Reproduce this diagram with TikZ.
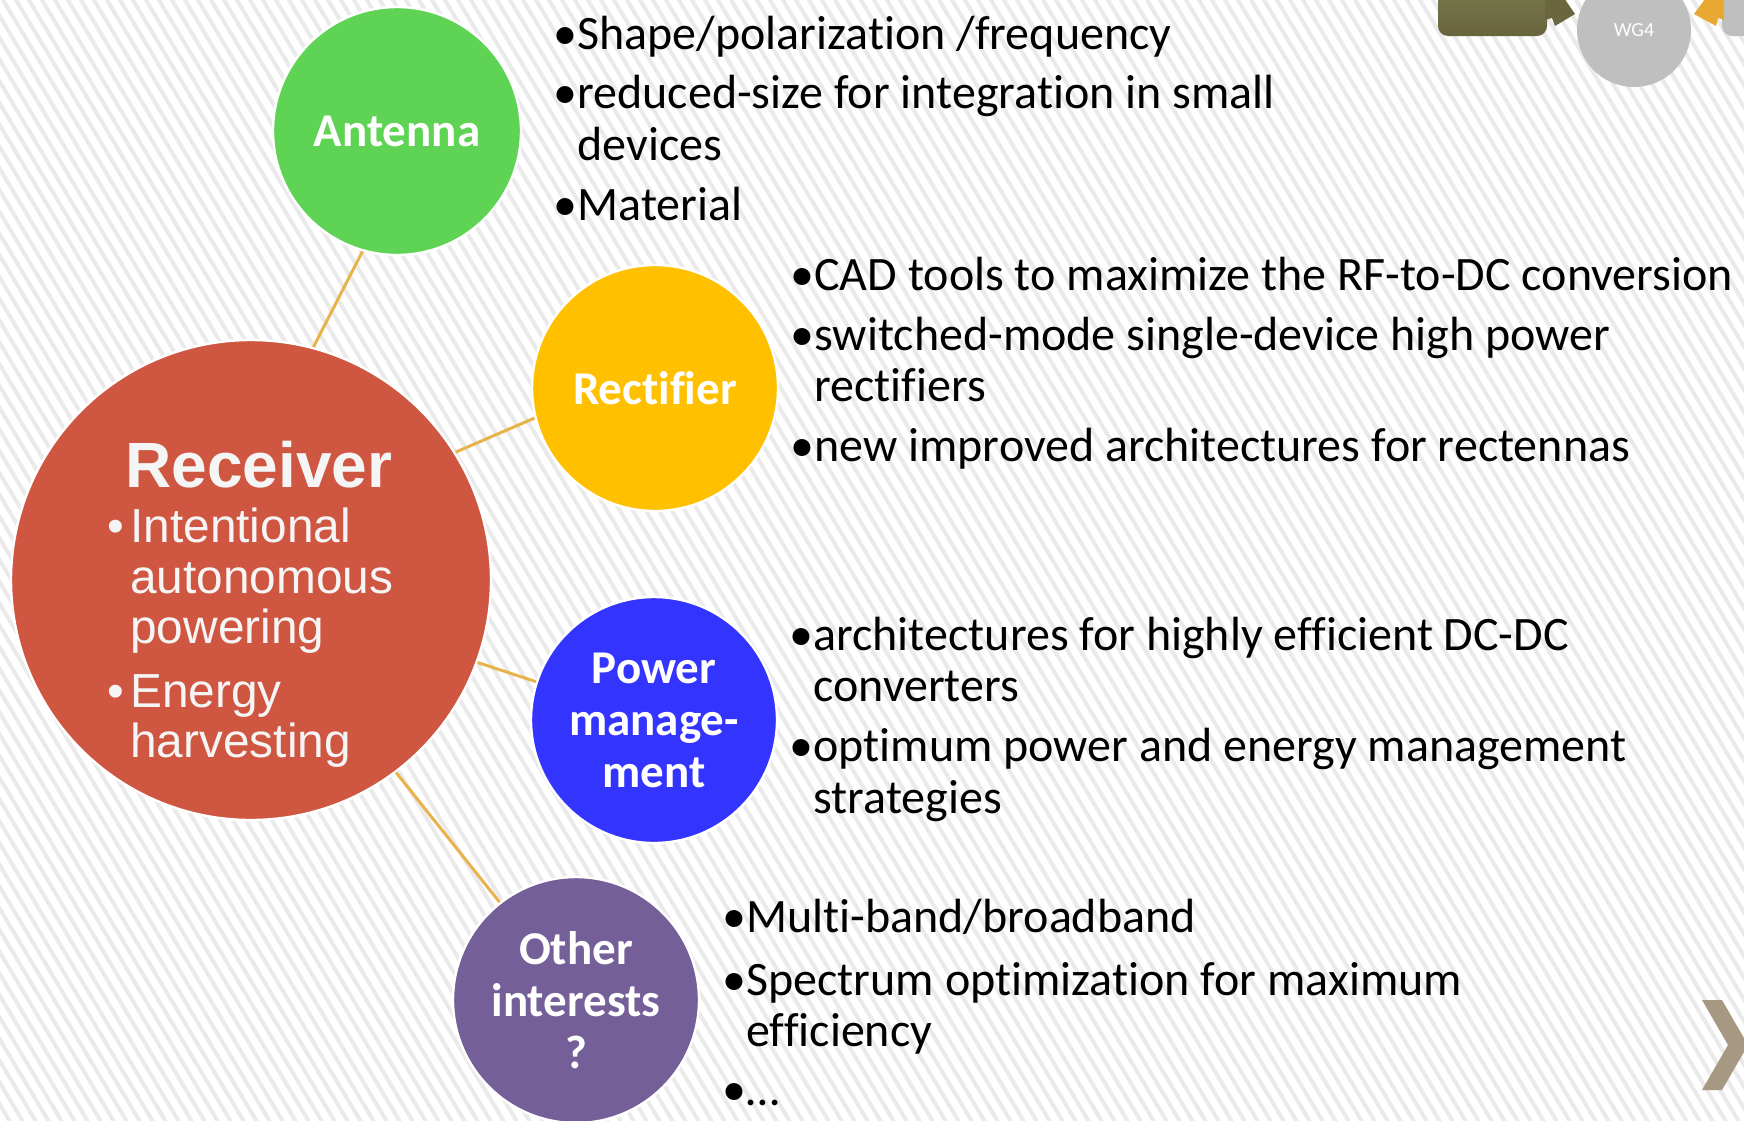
\documentclass[tikz,border=0pt]{standalone}
\usepackage{fontspec}
\setmainfont{Carlito}[RawFeature={-liga}]
\newfontfamily\arialf{Liberation Sans}
\usetikzlibrary{calc}

\definecolor{antgreen}{HTML}{5ED354}
\definecolor{rectgold}{HTML}{FFC000}
\definecolor{powblue}{HTML}{3434FF}
\definecolor{othpurple}{HTML}{745F98}
\definecolor{recred}{HTML}{CF5641}
\definecolor{recwhite}{HTML}{F5F5F5}
\definecolor{linkgold}{HTML}{E8B44A}
\definecolor{stripe}{HTML}{EAEAEA}
\definecolor{olivetop}{HTML}{7C7A4C}
\definecolor{olivebot}{HTML}{68653E}
\definecolor{wggray}{HTML}{BFBFBF}
\definecolor{arrorange}{HTML}{E8A832}
\definecolor{chev}{HTML}{A69882}

\newcommand\bul{\llap{•}}
\newcommand\rbul{\llap{•\hspace{3pt}}}

\begin{document}
\begin{tikzpicture}[x=0.5pt,y=-0.5pt,
  hub/.style={circle, draw=white, line width=1.2pt, inner sep=0pt, align=center,
    text=white, font=\fontsize{23.5}{26}\selectfont\bfseries},
  link/.style={draw=linkgold, line width=1.5pt},
  txt/.style={anchor=base west, inner sep=0pt, font=\fontsize{24}{26}\selectfont},
  rtxt/.style={anchor=base west, inner sep=0pt, text=recwhite,
    font=\arialf\fontsize{23.9}{26}\selectfont},
  rtitle/.style={anchor=base west, inner sep=0pt, text=recwhite,
    font=\arialf\bfseries\fontsize{32}{36}\selectfont},
]
\useasboundingbox (0,0) rectangle (1744,1120);

% striped background
\fill[white] (0,0) rectangle (1744,1120);
\begin{scope}
  \clip (0,0) rectangle (1744,1120);
  \foreach \k in {-60,...,140}
    \draw[stripe, line width=2pt] ({\k*13},-5) -- ({\k*13+675},1125);
\end{scope}

% working-group strip at the top right
\begin{scope}
  \clip (0,0) rectangle (1744,1120);
  \shade[top color=olivetop, bottom color=olivebot, rounded corners=5]
    (1438,-20) rectangle (1547,36);
  \fill[olivebot!90!olivetop] (1545,-5) -- (1562,-5) -- (1575,14) -- (1555,26)
    -- (1552,18) -- (1545,20) -- cycle;
  \fill[wggray, rounded corners=5] (1722,-20) rectangle (1770,36);
  \fill[arrorange] (1724,-5) -- (1708,-5) -- (1694,14) -- (1716,26)
    -- (1718,18) -- (1724,20) -- cycle;
  \node[circle, fill=wggray, minimum size=57pt, inner sep=0pt, text=white,
    font=\fontsize{10}{12}\selectfont] (wg) at (1634,30) {WG4};
\end{scope}

% next-slide chevron
\fill[chev] (1702,1000) -- (1722,1000) -- (1748,1045) -- (1722,1090)
  -- (1702,1090) -- (1728,1045) -- cycle;

% circles
\node[hub, fill=recred, minimum size=240pt] (rec) at (251,580) {};
\node[hub, fill=antgreen, minimum size=124pt] (ant) at (397,131) {Antenna};
\node[hub, fill=rectgold, minimum size=123pt] (rect) at (655,388) {Rectifier};
\node[hub, fill=powblue, minimum size=123pt] (pow) at (654,720) {Power\\manage-\\ment};
\node[hub, fill=othpurple, minimum size=123pt] (oth) at (576,1000) {Other\\interests\\?};

% connectors
\draw[link] (rec.75.3) -- (ant.254.5);
\draw[link] (rec.32.3) -- (rect.194.7);
\draw[link] (rec.-20.4) -- (pow.162);
\draw[link] (rec.-53) -- (oth.128.9);

% receiver text
\node[rtitle] (r0) at (125,487) {Receiver};
\node[rtxt] (r1) at (130,542) {\rbul Intentional};
\node[rtxt] (r2) at (130,593) {autonomous};
\node[rtxt] (r3) at (130,643) {powering};
\node[rtxt] (r4) at (130,707) {\rbul Energy};
\node[rtxt] (r5) at (130,757) {harvesting};

% antenna topics
\node[txt] (a1) at (577,49) {\bul Shape/polarization /frequency};
\node[txt] (a2) at (577,108) {\bul reduced-size for integration in small};
\node[txt] (a3) at (577,160) {devices};
\node[txt] (a4) at (577,220) {\bul Material};

% rectifier topics
\node[txt] (c1) at (814,290) {\bul CAD tools to maximize the RF-to-DC conversion};
\node[txt] (c2) at (814,350) {\bul switched-mode single-device high power};
\node[txt] (c3) at (814,401) {rectifiers};
\node[txt] (c4) at (814,461) {\bul new improved architectures for rectennas};

% power management topics
\node[txt] (p1) at (813,650) {\bul architectures for highly efficient DC-DC};
\node[txt] (p2) at (813,701) {converters};
\node[txt] (p3) at (813,761) {\bul optimum power and energy management};
\node[txt] (p4) at (813,813) {strategies};

% other topics
\node[txt] (o1) at (746,932) {\bul Multi-band/broadband};
\node[txt] (o2) at (746,995) {\bul Spectrum optimization for maximum};
\node[txt] (o3) at (746,1046) {efficiency};
\node[txt] (o4) at (746,1105) {\bul …};
\end{tikzpicture}
\end{document}
